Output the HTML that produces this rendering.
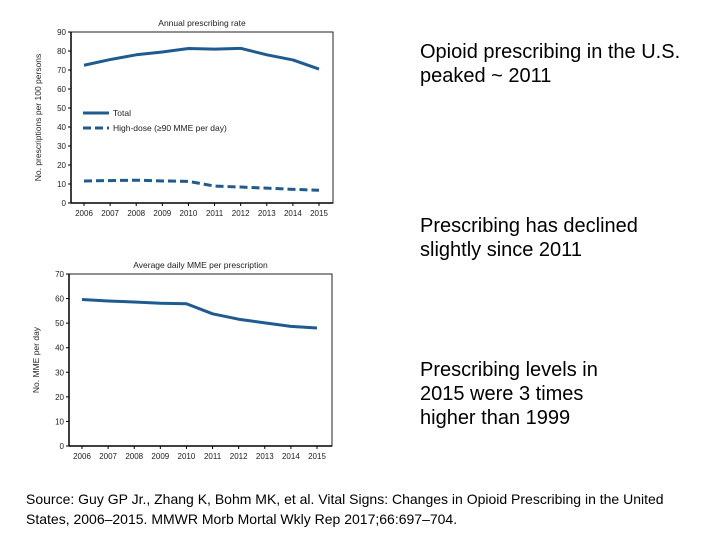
<!DOCTYPE html>
<html><head><meta charset="utf-8"><style>
body{margin:0;width:720px;height:540px;background:#fff;overflow:hidden;font-family:"Liberation Sans",sans-serif;position:relative}
.t{position:absolute;left:420px;font-size:20px;line-height:24px;color:#000}
.src{position:absolute;left:26px;top:489px;font-size:14px;line-height:20px;color:#000;white-space:nowrap}
svg text{font-family:"Liberation Sans",sans-serif}
</style></head><body>
<svg id="c" width="720" height="540" style="position:absolute;left:0;top:0"></svg>
<div class="t" style="top:40px">Opioid prescribing in the U.S.<br>peaked ~ 2011</div>
<div class="t" style="top:214px">Prescribing has declined<br>slightly since 2011</div>
<div class="t" style="top:358px">Prescribing levels in<br>2015 were 3 times<br>higher than 1999</div>
<div class="src">Source: Guy GP Jr., Zhang K, Bohm MK, et al. Vital Signs: Changes in Opioid Prescribing in the United<br>States, 2006–2015. MMWR Morb Mortal Wkly Rep 2017;66:697–704.</div>
<script>
const years=[2006,2007,2008,2009,2010,2011,2012,2013,2014,2015];
const totalRate=[72.5,75.5,78,79.5,81.3,81,81.4,78,75.3,70.5];
const highDose=[11.6,11.8,12,11.6,11.4,8.9,8.4,7.8,7.2,6.7];
const mme=[59.6,59,58.6,58.1,57.9,53.8,51.6,50.1,48.7,48.0];
const ticks1=[0,10,20,30,40,50,60,70,80,90];
const ticks2=[0,10,20,30,40,50,60,70];
const svg=document.getElementById('c');
const NS='http://www.w3.org/2000/svg';
function mk(tag,at,txt){const e=document.createElementNS(NS,tag);for(const k in at)e.setAttribute(k,at[k]);if(txt!=null)e.textContent=txt;svg.appendChild(e);return e;}
const C='#1f5b8e';
function chart(o){
  const xs=i=>o.x0+(o.x1-o.x0)*i/(years.length-1);
  const ys=v=>o.yb-(o.yb-o.yt)*v/o.max;
  let e=mk('rect',{x:o.l,y:o.yt,width:o.r-o.l,height:o.yb-o.yt,fill:'none',stroke:'#222','stroke-width':1});
  
  e=mk('line',{x1:o.l,y1:o.yt,x2:o.l,y2:o.yb,stroke:'#000','stroke-width':1.5});
  
  e=mk('line',{x1:o.l,y1:o.yb,x2:o.r,y2:o.yb,stroke:'#000','stroke-width':1.5});
  
  o.ticks.forEach(t=>{
    mk('line',{x1:o.l-3,y1:ys(t),x2:o.l,y2:ys(t),stroke:'#000'});
    e=mk('text',{x:o.l-5,y:ys(t)+3,'font-size':8,'text-anchor':'end',fill:'#222'},t);
    
  });
  years.forEach((y,i)=>{
    mk('line',{x1:xs(i),y1:o.yb,x2:xs(i),y2:o.yb+3,stroke:'#000'});
    e=mk('text',{x:xs(i),y:o.yb+13,'font-size':8,'text-anchor':'middle',fill:'#222'},y);
    
  });
  e=mk('text',{x:(o.l+o.r)/2,y:o.yt-6,'font-size':8.5,'text-anchor':'middle',fill:'#222'},o.title);
  
  const cy=(o.yt+o.yb)/2;
  e=mk('text',{x:o.l-30,y:cy,'font-size':8.5,'text-anchor':'middle',fill:'#222',transform:`rotate(-90 ${o.l-30} ${cy})`},o.ylabel);
  
  o.series.forEach(s=>{
    e=mk('polyline',{points:s.d.map((v,i)=>xs(i)+','+ys(v)).join(' '),fill:'none',stroke:C,'stroke-width':3,'stroke-dasharray':s.dash||'none','stroke-linejoin':'round'});
    
  });
  return {xs,ys};
}
chart({name:'rate-chart',l:71,r:333,yt:32,yb:203,x0:84,x1:319,max:90,ticks:ticks1,title:'Annual prescribing rate',ylabel:'No. prescriptions per 100 persons',
  series:[{d:totalRate,name:'total-line'},{d:highDose,name:'high-dose-line',dash:'8 4'}]});
chart({name:'mme-chart',l:69,r:332,yt:274,yb:446,x0:82,x1:317,max:70,ticks:ticks2,title:'Average daily MME per prescription',ylabel:'No. MME per day',
  series:[{d:mme,name:'mme-line'}]});
let e=mk('line',{x1:83,y1:113,x2:109,y2:113,stroke:C,'stroke-width':3});

e=mk('text',{x:113,y:116,'font-size':8.5,fill:'#222'},'Total');

e=mk('line',{x1:83,y1:128,x2:109,y2:128,stroke:C,'stroke-width':3,'stroke-dasharray':'8 4'});

e=mk('text',{x:113,y:131,'font-size':8.5,fill:'#222'},'High-dose (≥90 MME per day)');

</script>
</body></html>
